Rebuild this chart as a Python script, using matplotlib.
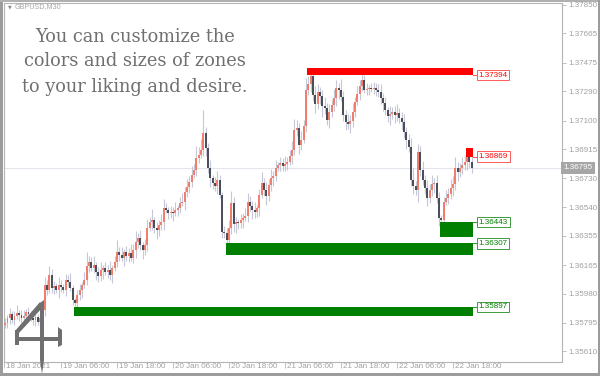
import matplotlib
matplotlib.use("Agg")
import matplotlib.pyplot as plt
import matplotlib.transforms as mtransforms
from matplotlib.patches import Rectangle, Polygon
import numpy as np

plt.rcParams['font.family'] = ['Liberation Sans', 'DejaVu Sans']

# ---- data (GBPUSD M30) ----
closes = [
    1.35793, 1.35825, 1.35851, 1.35812, 1.35838, 1.35857, 1.35844, 1.35825, 1.35838, 1.35863,
    1.35851, 1.35825, 1.35812, 1.35831, 1.35799, 1.35825, 1.35876,
    1.36038, 1.36006, 1.36103, 1.36019, 1.36032, 1.36006, 1.36038, 1.36025, 1.36006, 1.36070,
    1.36057, 1.36019, 1.35941, 1.35922,
    1.35973, 1.36006, 1.36038, 1.36070, 1.36161, 1.36187, 1.36148, 1.36167, 1.36122, 1.36096,
    1.36135, 1.36148, 1.36122, 1.36135, 1.36103, 1.36148, 1.36187,
    1.36251, 1.36232, 1.36213, 1.36251, 1.36226, 1.36245, 1.36213, 1.36264, 1.36316, 1.36342,
    1.36297, 1.36264, 1.36297, 1.36407, 1.36446, 1.36459, 1.36407, 1.36394, 1.36426, 1.36446,
    1.36536, 1.36523, 1.36504, 1.36510, 1.36504, 1.36523, 1.36536, 1.36569, 1.36575, 1.36640,
    1.36672, 1.36705, 1.36750, 1.36782, 1.36860, 1.36879, 1.36912, 1.37022,
    1.36924, 1.36795, 1.36730, 1.36698, 1.36679, 1.36717, 1.36620, 1.36381, 1.36375, 1.36329,
    1.36407, 1.36569, 1.36433, 1.36446, 1.36439, 1.36459, 1.36472, 1.36485,
    1.36575, 1.36549, 1.36523, 1.36510, 1.36536, 1.36620, 1.36698, 1.36653, 1.36614, 1.36685,
    1.36730, 1.36743, 1.36795, 1.36814, 1.36827, 1.36808, 1.36821, 1.36834, 1.36873, 1.36912,
    1.37041, 1.37054, 1.36944, 1.36976, 1.37067, 1.37300, 1.37339, 1.37390, 1.37267, 1.37209,
    1.37287, 1.37261, 1.37196, 1.37183, 1.37106, 1.37157, 1.37203, 1.37248, 1.37313, 1.37300,
    1.37255, 1.37138, 1.37093, 1.37080, 1.37099, 1.37157, 1.37222, 1.37274, 1.37326, 1.37364,
    1.37300, 1.37306, 1.37313, 1.37306, 1.37313, 1.37300, 1.37287, 1.37248, 1.37215, 1.37170,
    1.37131, 1.37144, 1.37157, 1.37138, 1.37151, 1.37119, 1.37093, 1.37028, 1.36976, 1.36931,
    1.36717, 1.36679, 1.36653,
    1.36899, 1.36782, 1.36717, 1.36666, 1.36601, 1.36653, 1.36692, 1.36698, 1.36601, 1.36472,
    1.36459, 1.36575, 1.36601, 1.36627, 1.36666, 1.36692, 1.36795, 1.36769, 1.36795, 1.36814,
    1.36834, 1.36899, 1.36834, 1.36795,
]
first_open = 1.35780

# wick lengths in pips above / below the body
up_wick = [
    3, 2, 4, 2, 3, 5, 2, 3, 4, 2, 3, 2, 4, 3, 2, 3, 4, 5, 3, 6,
    4, 3, 2, 5, 3, 2, 4, 3, 6, 2, 1, 3, 4, 2, 5, 9, 4, 3, 6, 2,
    3, 5, 2, 4, 3, 6, 2, 4, 8, 3, 5, 2, 4, 3, 6, 4, 7, 3, 5, 2,
    4, 6, 3, 7, 2, 4, 3, 5, 6, 3, 2, 4, 3, 5, 2, 4, 6, 3, 5, 4,
    6, 4, 8, 5, 7, 15, 4, 3, 5, 2, 4, 6, 3, 2, 4, 3, 5, 8, 4, 3,
    2, 4, 3, 5, 6, 4, 3, 5, 2, 4, 7, 3, 5, 4, 6, 3, 5, 2, 4, 3,
    5, 3, 4, 6, 7, 5, 3, 6, 4, 8, 5, 3, 4, 6, 5, 3, 4, 6, 3, 5,
    4, 6, 5, 3, 7, 4, 3, 5, 4, 6, 3, 5, 4, 5, 3, 4, 2, 3, 4, 3,
    4, 5, 3, 4, 2, 5, 3, 4, 6, 3, 4, 5, 3, 4, 6, 8, 3, 5, 4, 6,
    3, 5, 4, 6, 3, 5, 4, 2, 3, 5, 4, 6, 5, 7, 4, 3, 5, 4, 3, 2, 4,
]
down_wick = [
    2, 3, 4, 2, 3, 2, 4, 3, 2, 3, 5, 2, 3, 4, 2, 3, 2, 4, 3, 2,
    3, 4, 2, 5, 3, 2, 4, 3, 2, 3, 2, 4, 3, 5, 2, 3, 4, 2, 3, 5,
    4, 3, 6, 2, 4, 3, 5, 2, 3, 4, 2, 5, 3, 4, 2, 3, 5, 4, 3, 6,
    3, 4, 2, 5, 3, 6, 4, 3, 5, 2, 4, 3, 5, 2, 4, 3, 2, 5, 3, 4,
    3, 2, 4, 3, 2, 4, 5, 3, 6, 4, 3, 5, 2, 4, 3, 2, 3, 4, 5, 6,
    4, 3, 5, 2, 4, 3, 6, 4, 3, 5, 2, 4, 6, 3, 4, 5, 3, 2, 4, 3,
    3, 4, 2, 5, 3, 4, 6, 3, 2, 4, 3, 5, 4, 6, 3, 5, 7, 4, 3, 5,
    3, 4, 5, 6, 3, 4, 5, 3, 6, 4, 3, 2, 4, 3, 2, 3, 4, 2, 3, 4,
    3, 4, 5, 3, 4, 6, 3, 5, 4, 3, 5, 4, 6, 3, 4, 5, 3, 8, 4, 3,
    4, 5, 3, 4, 6, 3, 5, 4, 3, 2, 4, 3, 5, 4, 6, 3, 4, 3, 5, 4, 3,
]

# supply / demand zones: start bar, low, high, kind
zone_start = [130, 198, 187, 95, 30]
zone_low = [1.37394, 1.36869, 1.36346, 1.36230, 1.35839]
zone_high = [1.37440, 1.36927, 1.36443, 1.36307, 1.35897]
zone_kind = ["supply", "supply", "demand", "demand", "demand"]

price_ticks = [1.37850, 1.37665, 1.37475, 1.37290, 1.37100, 1.36915, 1.36730,
               1.36540, 1.36355, 1.36165, 1.35980, 1.35795, 1.35610]
time_tick_bars = [-0.5, 24, 48, 72, 96, 120, 144, 168, 192]
time_tick_labels = ["18 Jan 2021", "19 Jan 06:00", "19 Jan 18:00", "20 Jan 06:00",
                    "20 Jan 18:00", "21 Jan 06:00", "21 Jan 18:00", "22 Jan 06:00",
                    "22 Jan 18:00"]
current_price = 1.36795

assert len(closes) == len(up_wick) == len(down_wick)

closes = np.array(closes)
opens = np.concatenate([[first_open], closes[:-1]])
highs = np.maximum(opens, closes) + np.array(up_wick) * 0.0001
lows = np.minimum(opens, closes) - np.array(down_wick) * 0.0001
n = len(closes)
bars = np.arange(n)

BULL = "#f07e6e"
BEAR = "#4a4f59"
WICK = "#c6c8d8"
AXGRAY = "#a0a0a0"

W, H = 600, 376
fig = plt.figure(figsize=(6, 3.76), dpi=100)
fig.patch.set_facecolor("white")
ax = fig.add_axes([4 / W, 14 / H, 558 / W, 359 / H])
ax.set_facecolor("white")

# current price line
ax.axhline(current_price, color="#e4e4ec", lw=0.8, zorder=1)

# candles
ax.vlines(bars, lows, highs, color=WICK, lw=0.8, zorder=2)
up = closes >= opens
body_h = np.abs(closes - opens)
body_h = np.maximum(body_h, 0.00003)
ax.bar(bars[up], body_h[up], bottom=opens[up], width=0.85, color=BULL, lw=0, zorder=3)
ax.bar(bars[~up], body_h[~up], bottom=closes[~up], width=0.85, color=BEAR, lw=0, zorder=3)

# zones + price labels
last = n - 1
for s, lo, hi, kind in zip(zone_start, zone_low, zone_high, zone_kind):
    fill = "#ff0000" if kind == "supply" else "#008000"
    edge = "#ff5a5a" if kind == "supply" else "#3c9a3c"
    ax.add_patch(Rectangle((s - 0.4, lo), last + 0.5 - (s - 0.4), hi - lo,
                           facecolor=fill, edgecolor="none", zorder=4))
    lvl = lo if kind == "supply" else hi
    ax.plot([last + 0.5, last + 2.7], [lvl, lvl], color=edge, lw=0.8, zorder=4)
    ax.text(last + 3.0, lvl, f"{lvl:.5f}", fontsize=5.8, color=fill,
            ha="left", va="center", zorder=5,
            bbox=dict(boxstyle="square,pad=0.2", facecolor="white",
                      edgecolor=edge, lw=0.7))

ax.set_xlim(-0.43, 238.7)
ax.set_ylim(1.35540, 1.37862)

# axes styling
for sp in ax.spines.values():
    sp.set_color("#b4b4b4")
    sp.set_linewidth(0.8)
ax.yaxis.tick_right()
ax.set_yticks(price_ticks)
ax.set_yticklabels([f"{p:.5f}" for p in price_ticks])
ax.tick_params(axis="y", direction="out", length=3, width=0.6, colors="#b4b4b4",
               labelcolor=AXGRAY, labelsize=5.8, pad=1.5)
ax.set_xticks(time_tick_bars)
ax.set_xticklabels(time_tick_labels)
ax.tick_params(axis="x", direction="out", length=4, width=0.6, colors="#b4b4b4",
               labelcolor=AXGRAY, labelsize=5.8, pad=-3.5)
shift = mtransforms.ScaledTranslation(2 / 100, 0, fig.dpi_scale_trans)
for lab in ax.get_xticklabels():
    lab.set_horizontalalignment("left")
    lab.set_transform(lab.get_transform() + shift)

# current price tag on the axis
ax.text(1.003, current_price, f"{current_price:.5f}", transform=ax.get_yaxis_transform(),
        fontsize=5.8, color="white", ha="left", va="center", zorder=10,
        bbox=dict(boxstyle="square,pad=0.3", facecolor="#a6a6a6", edgecolor="none"),
        clip_on=False)

# symbol caption
fig.text(8 / W, 1 - 7 / H, "\u25bc", fontsize=3.5, color="#8a8a8a", ha="left", va="center",
         family="DejaVu Sans")
fig.text(15 / W, 1 - 7 / H, "GBPUSD,M30", fontsize=5.2, color="#a8a8a8", ha="left", va="center")

# overlay message
msg = ["You can customize the", "colors and sizes of zones", "to your liking and desire."]
for line, yy in zip(msg, [37, 61, 87]):
    fig.text(135 / W, 1 - yy / H, line, fontsize=12.8, family="DejaVu Serif",
             color="#707070", ha="center", va="center")

# logo
def px(pts):
    return [(x / W, 1 - y / H) for x, y in pts]

LOGO = "#6f6f6f"
shapes = [
    [(40, 303), (44, 300), (44, 360), (42, 374), (40, 360)],
    [(40, 302), (43, 307), (19, 333), (15, 331)],
    [(15, 330), (19, 330), (19, 345), (15, 345)],
    [(17, 337), (60, 337), (60, 341), (17, 341)],
    [(58, 327), (62, 330), (62, 345), (58, 347)],
]
for sh in shapes:
    fig.add_artist(Polygon(px(sh), closed=True, facecolor=LOGO, edgecolor="none",
                           transform=fig.transFigure, zorder=20))

# window frame
fig.add_artist(Rectangle((0, 0), 3 / W, 1, transform=fig.transFigure,
                         facecolor="#9c9c9c", edgecolor="none", zorder=30))
fig.add_artist(Rectangle((0, 0), 1, 3 / H, transform=fig.transFigure,
                         facecolor="#9c9c9c", edgecolor="none", zorder=30))
fig.add_artist(Rectangle((0, 1 - 1.5 / H), 1, 1.5 / H, transform=fig.transFigure,
                         facecolor="#b0b0b0", edgecolor="none", zorder=30))
fig.add_artist(Rectangle((1 - 2 / W, 0), 2 / W, 1, transform=fig.transFigure,
                         facecolor="#9c9c9c", edgecolor="none", zorder=30))

fig.savefig("out.png", dpi=100, facecolor="white")
